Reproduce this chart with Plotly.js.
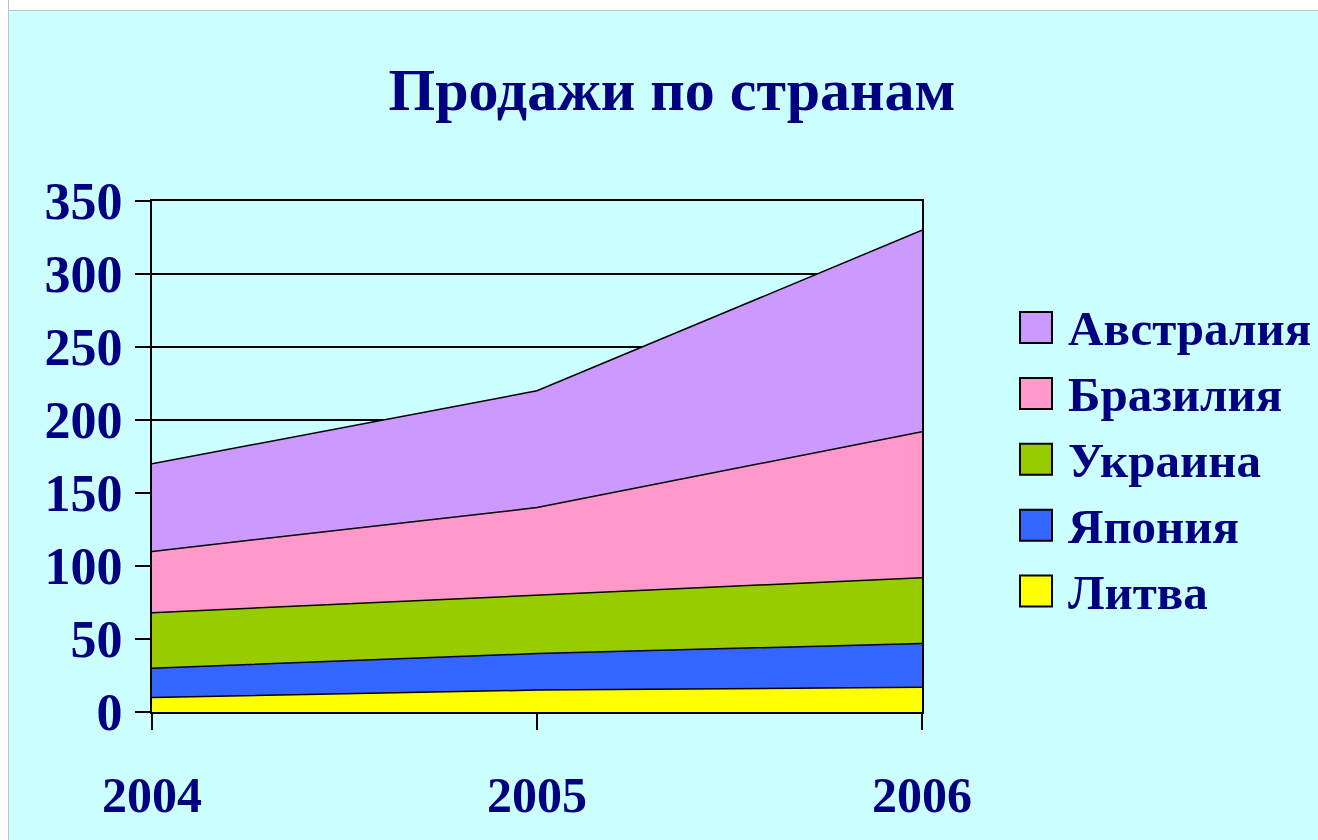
<!DOCTYPE html>
<html>
<head>
<meta charset="utf-8">
<script src="https://cdn.plot.ly/plotly-3.0.1.min.js"></script>
<style>
  html, body { margin: 0; padding: 0; background: #ccffff; overflow: hidden; width: 100%; height: 100%; }
  #topstrip { position: absolute; left: 0; top: 0; width: 100%; height: 10px; background: #ffffff; border-bottom: 1px solid #c0c0c0; }
  #leftstrip { position: absolute; left: 0; top: 0; width: 8px; height: 100%; background: #ffffff; border-right: 1px solid #c0c0c0; }
  #chart { position: absolute; left: 9px; top: 11px; width: 1309px; height: 829px; }
</style>
</head>
<body>
<div id="topstrip"></div>
<div id="leftstrip"></div>
<div id="chart"></div>
<script>
// ---- data ----
const years = [2004, 2005, 2006];
const seriesNames = ["Литва", "Япония", "Украина", "Бразилия", "Австралия"];
const lithuania = [10, 15, 17];
const japan = [20, 25, 30];
const ukraine = [38, 40, 45];
const brazil = [42, 60, 100];
const australia = [60, 80, 138];
const seriesColors = ["#ffff00", "#3366ff", "#99cc00", "#ff99cc", "#cc99ff"];
const titleText = "Продажи по странам";
const yTicks = [0, 50, 100, 150, 200, 250, 300, 350];

const seriesValues = [lithuania, japan, ukraine, brazil, australia];
const navy = "#000080";
const serif = "Liberation Serif, Times New Roman, serif";

const traces = seriesValues.map((vals, i) => ({
  type: "scatter",
  mode: "lines",
  x: years,
  y: vals,
  name: seriesNames[i],
  stackgroup: "one",
  fillcolor: seriesColors[i],
  line: { color: "#000000", width: 1.5 },
  showlegend: false,
  hoverinfo: "skip"
}));

// plot-area geometry (div pixels) used only to place the custom legend
const W = 1309, H = 829;
const margin = { l: 143, r: 396, t: 190, b: 128 };
const plotW = W - margin.l - margin.r;
const plotH = H - margin.t - margin.b;
function px2x(px) { return (px - margin.l) / plotW; }
function py2y(py) { return (H - margin.b - py) / plotH; }

const shapes = [];
const annotations = [];
// legend: top entry = last series
const legendOrder = seriesNames.map((n, i) => i).reverse();
legendOrder.forEach((si, row) => {
  const cy = 316.5 + row * 65.9;   // div coords
  const sx0 = 1011, sx1 = 1043, half = 15.5;
  shapes.push({
    type: "rect", xref: "paper", yref: "paper",
    x0: px2x(sx0), x1: px2x(sx1), y0: py2y(cy + half), y1: py2y(cy - half),
    fillcolor: seriesColors[si], line: { color: "#000000", width: 2 }
  });
  annotations.push({
    xref: "paper", yref: "paper", x: px2x(1057), y: py2y(cy + 1),
    xanchor: "left", yanchor: "middle", showarrow: false,
    text: seriesNames[si],
    font: { family: serif, size: 49, color: navy, weight: 700 }
  });
});

const layout = {
  width: W, height: H,
  paper_bgcolor: "#ccffff",
  plot_bgcolor: "#ccffff",
  margin: margin,
  showlegend: false,
  title: {
    text: titleText,
    font: { family: serif, size: 60, color: navy, weight: 700 },
    x: (672 - 9) / W, xanchor: "center", xref: "container",
    y: 1 - 78 / H, yanchor: "middle", yref: "container"
  },
  xaxis: {
    type: "linear",
    range: [years[0], years[years.length - 1]],
    tickvals: years,
    ticktext: years.map(String),
    ticks: "outside", ticklen: 16, tickwidth: 2, tickcolor: "#000000",
    showline: true, linecolor: "#000000", linewidth: 2, mirror: true,
    showgrid: false, zeroline: false,
    ticklabelstandoff: 22,
    tickfont: { family: serif, size: 50, color: navy, weight: 700 }
  },
  yaxis: {
    range: [0, 350],
    tickvals: yTicks,
    ticks: "outside", ticklen: 15, tickwidth: 2, tickcolor: "#000000",
    showline: true, linecolor: "#000000", linewidth: 2, mirror: true,
    showgrid: true, gridcolor: "#000000", gridwidth: 1.5,
    zeroline: false,
    ticklabelstandoff: 2,
    tickfont: { family: serif, size: 52, color: navy, weight: 700 }
  },
  shapes: shapes,
  annotations: annotations,
  hovermode: false
};

Plotly.newPlot("chart", traces, layout, { displayModeBar: false, staticPlot: true });
</script>
</body>
</html>
